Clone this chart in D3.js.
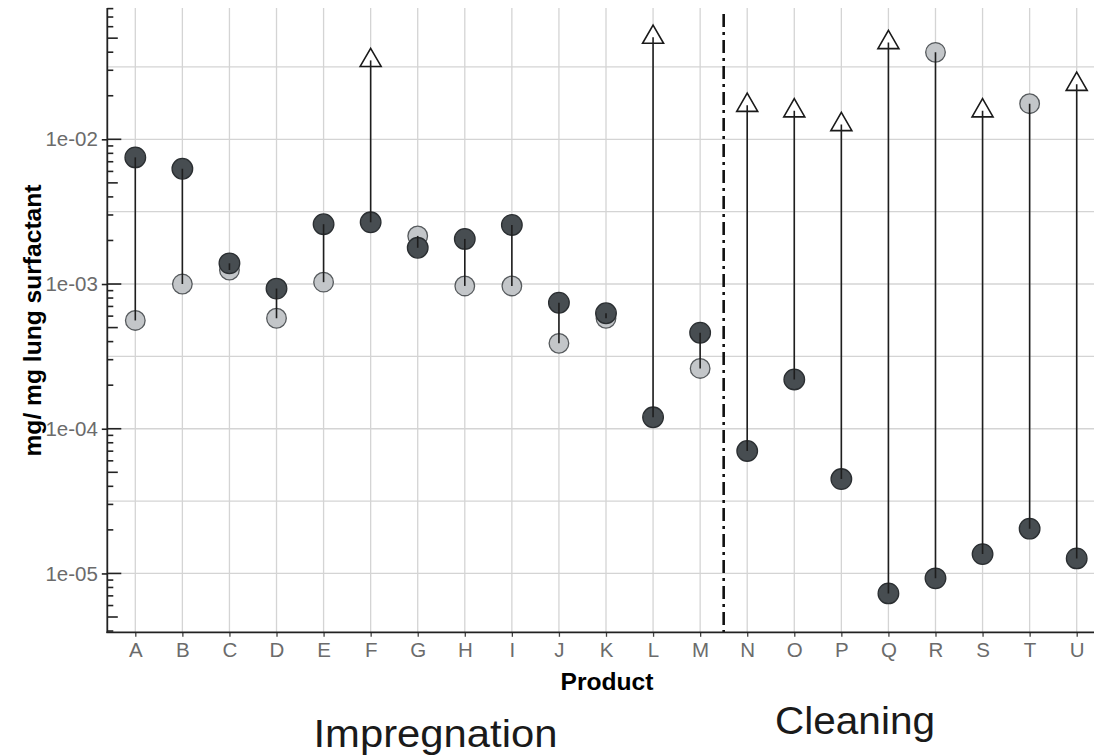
<!DOCTYPE html>
<html>
<head>
<meta charset="utf-8">
<script src="https://cdn.jsdelivr.net/npm/d3@7"></script>
<style>
  html, body { margin: 0; padding: 0; background: #ffffff; }
  svg { display: block; }
</style>
</head>
<body>
<div id="chart"></div>
<script>
// ---------------- data ----------------
const products = ["A","B","C","D","E","F","G","H","I","J","K","L","M","N","O","P","Q","R","S","T","U"];
const groupLabels = ["Impregnation", "Cleaning"];
const lastImpregnation = "M";
// dark filled circles
const darkValues = [7.5e-3, 6.26e-3, 1.39e-3, 9.3e-4, 2.59e-3, 2.67e-3, 1.78e-3, 2.05e-3, 2.56e-3, 7.43e-4, 6.28e-4, 1.2e-4, 4.61e-4,
                    7.02e-5, 2.19e-4, 4.49e-5, 7.28e-6, 9.25e-6, 1.36e-5, 2.04e-5, 1.27e-5];
// light grey circles
const lightValues = [5.6e-4, 1.0e-3, 1.25e-3, 5.8e-4, 1.03e-3, null, 2.15e-3, 9.7e-4, 9.7e-4, 3.89e-4, 5.8e-4, null, 2.61e-4,
                     null, null, null, null, 0.0399, null, 0.01762, null];
// open triangles
const triangleValues = [null, null, null, null, null, 0.0351, null, null, null, null, null, 0.0508, null,
                        0.01718, 0.01574, 0.01265, 0.0466, null, 0.01574, null, 0.024];
const yMajorTicks = [1e-5, 1e-4, 1e-3, 1e-2];
const yTickLabels = ["1e-05", "1e-04", "1e-03", "1e-02"];
const yDomain = [3.92e-6, 0.0808];
const xTitle = "Product";
const yTitle = "mg/ mg lung surfactant";

// ---------------- layout ----------------
const W = 1094, H = 755;
const panelLeft = 107.3, panelTop = 8, panelBottom = 632.3;

const svg = d3.select("#chart").append("svg")
  .attr("width", W).attr("height", H)
  .style("font-family", "'Liberation Sans', Arial, sans-serif");

svg.append("rect").attr("width", W).attr("height", H).attr("fill", "#ffffff");

const x = d3.scalePoint().domain(products).range([135.3, 1076.7]);
const y = d3.scaleLog().domain(yDomain).range([panelBottom, panelTop]);

const gridColor = "#d4d4d4";

// horizontal grid: majors at decades, minors half-way in log space
const gridG = svg.append("g");
const minorGrid = [];
for (let e = -6; e <= -1; e++) minorGrid.push(Math.pow(10, e + 0.5));
gridG.selectAll("line.hmin").data(minorGrid.filter(v => v > yDomain[0] && v < yDomain[1]))
  .join("line").attr("class", "hmin")
  .attr("x1", panelLeft).attr("x2", W)
  .attr("y1", d => y(d)).attr("y2", d => y(d))
  .attr("stroke", gridColor).attr("stroke-width", 1.2);
gridG.selectAll("line.hmaj").data(yMajorTicks)
  .join("line").attr("class", "hmaj")
  .attr("x1", panelLeft).attr("x2", W)
  .attr("y1", d => y(d)).attr("y2", d => y(d))
  .attr("stroke", gridColor).attr("stroke-width", 1.3);
gridG.selectAll("line.v").data(products)
  .join("line").attr("class", "v")
  .attr("x1", d => x(d)).attr("x2", d => x(d))
  .attr("y1", panelTop).attr("y2", panelBottom)
  .attr("stroke", gridColor).attr("stroke-width", 1.3);

// separator (dash-dot)
const step = x.step();
svg.append("line")
  .attr("x1", x(lastImpregnation) + step / 2).attr("x2", x(lastImpregnation) + step / 2)
  .attr("y1", 14).attr("y2", panelBottom)
  .attr("stroke", "#111").attr("stroke-width", 2.6)
  .attr("stroke-dasharray", "13,5,3,5");

// ---------------- marks ----------------
const rows = products.map((p, i) => {
  const vals = [darkValues[i], lightValues[i], triangleValues[i]].filter(v => v != null);
  return { p, dark: darkValues[i], light: lightValues[i], tri: triangleValues[i],
           lo: d3.min(vals), hi: d3.max(vals) };
});

const marks = svg.append("g");
// light circles
marks.selectAll("circle.light").data(rows.filter(d => d.light != null))
  .join("circle").attr("class", "light")
  .attr("cx", d => x(d.p)).attr("cy", d => y(d.light)).attr("r", 9.8)
  .attr("fill", "#c3c6c9").attr("stroke", "#55595c").attr("stroke-width", 1.3);
// dark circles
marks.selectAll("circle.dark").data(rows)
  .join("circle").attr("class", "dark")
  .attr("cx", d => x(d.p)).attr("cy", d => y(d.dark)).attr("r", 10.3)
  .attr("fill", "#474d51").attr("stroke", "#2a2e31").attr("stroke-width", 1.3);
// triangles (centroid at data value)
const side = 21, th = side * Math.sqrt(3) / 2;
marks.selectAll("path.tri").data(rows.filter(d => d.tri != null))
  .join("path").attr("class", "tri")
  .attr("d", d => {
    const cx = x(d.p), cy = y(d.tri);
    return `M${cx},${cy - th * 2 / 3} L${cx + side / 2},${cy + th / 3} L${cx - side / 2},${cy + th / 3} Z`;
  })
  .attr("fill", "#ffffff").attr("stroke", "#1a1a1a").attr("stroke-width", 1.6)
  .attr("stroke-linejoin", "miter");
// range segments (drawn over points)
marks.selectAll("line.seg").data(rows)
  .join("line").attr("class", "seg")
  .attr("x1", d => x(d.p)).attr("x2", d => x(d.p))
  .attr("y1", d => y(d.lo)).attr("y2", d => y(d.hi))
  .attr("stroke", "#1e1e1e").attr("stroke-width", 1.6);

// ---------------- axes ----------------
const axisColor = "#222";
const yAxis = d3.axisLeft(y).tickValues(yMajorTicks)
  .tickFormat((d, i) => yTickLabels[i]).tickSize(5.5).tickPadding(4);
const yg = svg.append("g").attr("transform", `translate(${panelLeft},0)`).call(yAxis);
yg.select(".domain").remove();
yg.selectAll(".tick line").attr("stroke", axisColor).attr("stroke-width", 1.6);
yg.selectAll(".tick text").attr("fill", "#6b6b6b").style("font-size", "20.5px")
  .attr("x", -9.4);
svg.append("line").attr("x1", panelLeft).attr("x2", panelLeft)
  .attr("y1", panelTop).attr("y2", panelBottom + 0.8)
  .attr("stroke", axisColor).attr("stroke-width", 1.8);

// log ticks inside the panel
const logTicks = [];
for (let e = -6; e <= -1; e++) {
  for (let m = 1; m <= 9; m++) {
    const v = m * Math.pow(10, e);
    if (v >= yDomain[0] && v <= yDomain[1]) logTicks.push({ v, m });
  }
}
svg.append("g").selectAll("line").data(logTicks).join("line")
  .attr("x1", panelLeft).attr("x2", d => panelLeft + (d.m === 1 ? 14 : d.m === 5 ? 10.5 : 6))
  .attr("y1", d => y(d.v)).attr("y2", d => y(d.v))
  .attr("stroke", axisColor).attr("stroke-width", 1.6);

// x axis
const xAxis = d3.axisBottom(x).tickSize(4.5).tickPadding(6);
const xg = svg.append("g").attr("transform", `translate(0,${panelBottom})`).call(xAxis);
xg.select(".domain").remove();
xg.selectAll(".tick line").attr("stroke", "#444").attr("stroke-width", 1.3);
xg.selectAll(".tick text").attr("fill", "#6b6b6b").style("font-size", "20.5px");
svg.append("line").attr("x1", panelLeft - 0.9).attr("x2", W)
  .attr("y1", panelBottom).attr("y2", panelBottom)
  .attr("stroke", axisColor).attr("stroke-width", 1.8);

// ---------------- titles ----------------
svg.append("text").text(xTitle)
  .attr("x", 607).attr("y", 690)
  .attr("text-anchor", "middle").attr("font-weight", "bold")
  .attr("textLength", 93).attr("lengthAdjust", "spacingAndGlyphs")
  .style("font-size", "24px").attr("fill", "#000");

svg.append("text").text(yTitle)
  .attr("transform", `translate(41,320.5) rotate(-90)`)
  .attr("text-anchor", "middle").attr("font-weight", "bold")
  .attr("textLength", 272).attr("lengthAdjust", "spacingAndGlyphs")
  .style("font-size", "23px").attr("fill", "#000");

const groupPos = [{ cx: 435.5, base: 747 }, { cx: 855, base: 734 }];
const groupLen = [244, 160];
svg.append("g").selectAll("text").data(groupLabels).join("text")
  .text(d => d)
  .attr("x", (d, i) => groupPos[i].cx).attr("y", (d, i) => groupPos[i].base)
  .attr("text-anchor", "middle")
  .attr("textLength", (d, i) => groupLen[i]).attr("lengthAdjust", "spacingAndGlyphs")
  .style("font-size", "38px").attr("fill", "#1a1a1a");
</script>
</body>
</html>
